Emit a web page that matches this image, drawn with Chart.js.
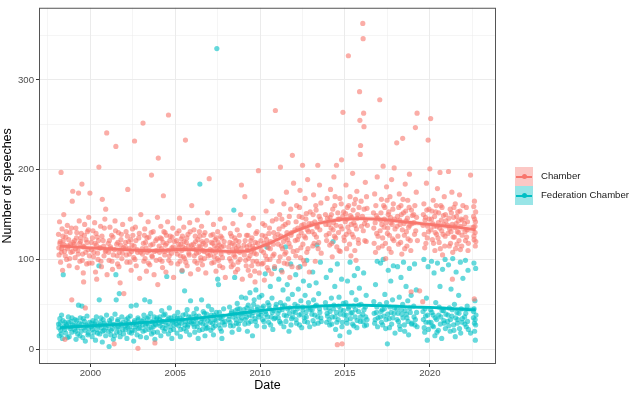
<!DOCTYPE html>
<html>
<head>
<meta charset="utf-8">
<script src="https://cdn.jsdelivr.net/npm/chart.js@4"></script>
<style>
  html, body { margin: 0; padding: 0; background: #fff; }
  #wrap { position: relative; width: 633px; height: 393px; }
  #legend { position: absolute; left: 515px; top: 167px; font-family: "Liberation Sans", Arial, sans-serif; font-size: 9.6px; color: #1a1a1a; }
  .item { position: relative; height: 19px; }
  .key { position: absolute; left: 0; top: 0; width: 18px; height: 19px; }
  .key i { position: absolute; left: 1px; right: 1px; top: 8.5px; height: 2px; }
  .key b { position: absolute; left: 6.5px; top: 7px; width: 5px; height: 5px; border-radius: 50%; }
  .item span { position: absolute; left: 26px; top: 3px; white-space: nowrap; }
</style>
</head>
<body>
<div id="wrap">
  <canvas id="chart" width="633" height="393"></canvas>
  <div id="legend"></div>
</div>
<script>
// Series names and colours (ggplot default hue)
const seriesNames = ['Chamber', 'Federation Chamber'];
const seriesColors = ['#F8766D', '#00BFC4'];

// Axis ticks
const yearTicks = [2000, 2005, 2010, 2015, 2020];
const yearMinor = [1997.5, 2002.5, 2007.5, 2012.5, 2017.5, 2022.5];
const countTicks = [0, 100, 200, 300];
const countMinor = [50, 150, 250, 350];

// Smoothed trend
const trendYears = [1998.2, 1999, 2000, 2001, 2002, 2003, 2004, 2005, 2006, 2007, 2008, 2009, 2010, 2011, 2012, 2013, 2014, 2015, 2016, 2017, 2018, 2019, 2020, 2021, 2022, 2022.7];
const chamberTrend = [115, 114, 113, 112, 111, 110, 110, 111, 111, 110, 109, 109, 114, 122, 131, 138, 142.5, 145, 145.5, 145, 143, 141, 139, 137, 135, 133];
const chamberSe = [5, 3, 2.5, 2.5, 2.5, 2.5, 2.5, 2.5, 2.5, 2.5, 2.5, 2.5, 2.5, 2.5, 2.5, 2.5, 2.5, 2.5, 2.5, 2.5, 2.5, 2.5, 2.5, 3, 3.5, 5];
const fedTrend = [24, 25, 26, 27, 28, 29.5, 31, 32.5, 34, 36, 38, 40.5, 43, 45, 46.5, 47.5, 48.5, 49, 49, 48.5, 48, 47, 46.5, 45.5, 44.5, 44];
const fedSe = [3.5, 2, 1.5, 1.5, 1.5, 1.5, 1.5, 1.5, 1.5, 1.5, 1.5, 1.5, 1.5, 1.5, 1.5, 1.5, 1.5, 1.5, 1.5, 1.5, 1.5, 1.5, 1.5, 2, 2.5, 3.5];

// Sitting days: [date as decimal year, number of speeches]
const chamberPoints = [
  [1998.12,128],[1998.15,105],[1998.18,142],[1998.2,118],[1998.24,97],[1998.27,197],[1998.3,112],[1998.33,134],[1998.36,88],[1998.4,121],[1998.43,150],[1998.47,109],[1998.5,11],[1998.55,125],[1998.6,100],[1998.64,138],[1998.7,115],[1998.75,93],[1998.8,130],[1998.85,108],[1998.9,55],[1998.93,165],[1998.96,176],[1998.98,119],
  [1999.05,117],[1999.1,102],[1999.14,135],[1999.18,124],[1999.22,91],[1999.26,110],[1999.3,174],[1999.34,143],[1999.38,98],[1999.42,120],[1999.46,129],[1999.5,184],[1999.54,106],[1999.58,85],[1999.6,75],[1999.62,114],[1999.66,139],[1999.7,46],[1999.74,122],[1999.78,95],[1999.82,131],[1999.86,111],[1999.9,147],[1999.94,104],[1999.97,174],
  [2000.05,119],[2000.1,96],[2000.15,132],[2000.2,108],[2000.25,141],[2000.3,86],[2000.35,116],[2000.37,78],[2000.4,125],[2000.45,100],[2000.5,203],[2000.55,113],[2000.6,137],[2000.65,92],[2000.7,167],[2000.75,121],[2000.8,104],[2000.85,145],[2000.9,156],[2000.93,110],[2000.96,241],[2000.98,83],
  [2001.05,118],[2001.1,99],[2001.15,136],[2001.2,112],[2001.25,127],[2001.3,89],[2001.35,105],[2001.4,6],[2001.45,143],[2001.5,226],[2001.55,117],[2001.6,95],[2001.65,130],[2001.7,108],[2001.75,74],[2001.8,122],[2001.85,101],[2001.9,139],[2001.95,113],[2001.97,62],
  [2002.05,114],[2002.1,131],[2002.15,97],[2002.2,178],[2002.25,120],[2002.3,106],[2002.35,145],[2002.4,88],[2002.45,116],[2002.5,127],[2002.55,102],[2002.6,232],[2002.65,136],[2002.7,93],[2002.75,111],[2002.8,1],[2002.85,124],[2002.9,79],[2002.95,108],[2002.97,150],
  [2003.05,112],[2003.1,252],[2003.15,98],[2003.2,134],[2003.25,119],[2003.3,87],[2003.35,108],[2003.4,142],[2003.45,125],[2003.5,94],[2003.55,116],[2003.6,194],[2003.65,103],[2003.7,131],[2003.75,83],[2003.8,7],[2003.85,121],[2003.9,110],[2003.95,147],[2003.97,72],
  [2004.0,213],[2004.05,115],[2004.1,100],[2004.15,137],[2004.2,123],[2004.25,91],[2004.3,171],[2004.35,109],[2004.4,130],[2004.45,86],[2004.5,118],[2004.55,142],[2004.6,261],[2004.65,104],[2004.7,126],[2004.75,96],[2004.8,113],[2004.85,135],[2004.9,80],[2004.95,120],
  [2005.05,110],[2005.1,129],[2005.15,95],[2005.2,117],[2005.25,146],[2005.3,104],[2005.35,123],[2005.4,88],[2005.45,114],[2005.5,136],[2005.55,101],[2005.6,233],[2005.65,119],[2005.7,93],[2005.75,128],[2005.8,107],[2005.85,141],[2005.9,84],[2005.95,116],[2005.97,160],
  [2006.05,112],[2006.1,133],[2006.15,98],[2006.2,120],[2006.25,107],[2006.3,144],[2006.35,89],[2006.4,115],[2006.45,126],[2006.5,102],[2006.55,137],[2006.6,94],[2006.65,118],[2006.7,109],[2006.75,130],[2006.8,85],[2006.85,121],[2006.9,152],[2006.95,104],
  [2007.0,190],[2007.05,111],[2007.1,127],[2007.15,96],[2007.2,118],[2007.25,139],[2007.3,103],[2007.35,122],[2007.4,87],[2007.45,113],[2007.5,131],[2007.55,99],[2007.6,116],[2007.65,145],[2007.7,106],[2007.75,124],[2007.8,91],[2007.85,115],[2007.9,135],[2007.95,80],
  [2008.15,114],[2008.2,101],[2008.25,129],[2008.3,92],[2008.35,118],[2008.4,140],[2008.45,105],[2008.5,124],[2008.55,86],[2008.6,112],[2008.65,133],[2008.7,97],[2008.75,120],[2008.8,108],[2008.85,150],[2008.9,183],[2008.95,78],
  [2009.05,116],[2009.1,170],[2009.15,99],[2009.2,127],[2009.25,110],[2009.3,88],[2009.35,138],[2009.4,104],[2009.45,121],[2009.5,93],[2009.55,115],[2009.6,146],[2009.65,107],[2009.7,75],[2009.75,129],[2009.8,98],[2009.85,118],[2009.9,199],[2009.95,85],
  [2010.05,121],[2010.1,95],[2010.15,140],[2010.2,108],[2010.25,77],[2010.3,126],[2010.35,154],[2010.4,100],[2010.45,117],[2010.5,88],[2010.55,135],[2010.6,112],[2010.7,165],[2010.75,104],[2010.8,130],[2010.85,92],[2010.9,266],[2010.95,145],
  [2011.05,128],[2011.1,98],[2011.15,150],[2011.2,203],[2011.25,115],[2011.3,86],[2011.35,137],[2011.4,162],[2011.45,106],[2011.5,124],[2011.55,175],[2011.6,95],[2011.65,141],[2011.7,118],[2011.75,80],[2011.8,156],[2011.85,130],[2011.9,216],[2011.95,109],[2011.97,185],
  [2012.05,133],[2012.1,104],[2012.15,160],[2012.2,122],[2012.25,91],[2012.3,148],[2012.35,177],[2012.4,113],[2012.45,138],[2012.5,205],[2012.55,99],[2012.6,126],[2012.65,168],[2012.7,145],[2012.75,108],[2012.8,189],[2012.85,131],[2012.9,86],[2012.95,153],
  [2013.05,140],[2013.1,115],[2013.15,172],[2013.2,128],[2013.25,98],[2013.3,155],[2013.35,136],[2013.4,205],[2013.45,119],[2013.5,183],[2013.55,145],[2013.6,107],[2013.85,150],[2013.9,127],[2013.95,168],
  [2014.05,139],[2014.1,116],[2014.15,178],[2014.2,150],[2014.25,103],[2014.3,133],[2014.35,192],[2014.4,160],[2014.45,124],[2014.5,205],[2014.55,5],[2014.6,145],[2014.65,110],[2014.7,168],[2014.75,137],[2014.8,211],[2014.83,6],[2014.88,264],[2014.92,153],[2014.96,121],
  [2015.02,142],[2015.06,183],[2015.1,112],[2015.14,158],[2015.2,327],[2015.24,131],[2015.3,170],[2015.35,104],[2015.4,147],[2015.45,196],[2015.5,125],[2015.55,162],[2015.6,138],[2015.65,99],[2015.7,176],[2015.75,150],[2015.8,118],[2015.86,287],[2015.88,255],[2015.9,217],[2015.92,227],[2015.95,165],
  [2016.05,363],[2016.07,346],[2016.1,263],[2016.12,248],[2016.15,140],[2016.2,186],[2016.25,120],[2016.3,157],[2016.7,135],[2016.75,173],[2016.8,108],[2016.85,149],[2016.9,192],[2016.95,126],
  [2017.05,278],[2017.1,144],[2017.15,167],[2017.2,115],[2017.25,204],[2017.3,136],[2017.35,158],[2017.4,101],[2017.45,181],[2017.5,129],[2017.55,150],[2017.6,112],[2017.65,170],[2017.7,141],[2017.75,189],[2017.8,123],[2017.85,162],[2017.9,202],[2017.95,134],
  [2018.05,230],[2018.1,148],[2018.15,117],[2018.2,173],[2018.25,139],[2018.3,160],[2018.35,106],[2018.4,235],[2018.45,152],[2018.5,127],[2018.55,184],[2018.6,143],[2018.65,115],[2018.7,166],[2018.75,136],[2018.8,195],[2018.85,121],[2018.9,64],[2018.92,155],[2018.95,140],
  [2019.05,150],[2019.1,128],[2019.15,247],[2019.2,175],[2019.25,263],[2019.4,65],[2019.58,53],[2019.6,138],[2019.65,162],[2019.7,113],[2019.75,147],[2019.8,185],[2019.85,124],[2019.9,233],[2019.95,156],
  [2020.0,201],[2020.05,257],[2020.1,145],[2020.15,122],[2020.2,166],[2020.25,137],[2020.3,110],[2020.35,153],[2020.4,128],[2020.45,179],[2020.5,141],[2020.55,119],[2020.6,197],[2020.65,160],[2020.7,132],[2020.75,105],[2020.8,149],[2020.85,170],[2020.9,126],[2020.95,143],
  [2021.05,138],[2021.1,198],[2021.15,115],[2021.2,156],[2021.25,131],[2021.3,175],[2021.33,78],[2021.35,108],[2021.4,147],[2021.45,125],[2021.5,162],[2021.55,140],[2021.6,117],[2021.65,153],[2021.7,130],[2021.75,172],[2021.8,111],[2021.85,145],[2021.9,127],[2021.95,160],
  [2022.05,140],[2022.1,121],[2022.15,158],[2022.2,133],[2022.25,110],[2022.4,194],[2022.58,148],[2022.6,126],[2022.62,56],[2022.63,165],[2022.66,137],[2022.68,115],[2022.7,153]
];

// The dense middle of the Chamber cloud
const chamberCorePoints = [
  [1998.14,113],[1998.22,120],[1998.29,108],[1998.38,126],[1998.45,116],[1998.52,104],[1998.58,131],[1998.66,112],[1998.72,122],[1998.78,101],[1998.83,117],[1998.88,135],[1998.95,109],
  [1999.07,121],[1999.12,112],[1999.2,130],[1999.28,106],[1999.36,118],[1999.44,124],[1999.52,99],[1999.56,115],[1999.64,127],[1999.72,108],[1999.8,119],[1999.88,133],[1999.92,96],
  [2000.07,111],[2000.12,124],[2000.18,103],[2000.27,118],[2000.33,129],[2000.42,107],[2000.48,121],[2000.58,113],[2000.62,98],[2000.68,126],[2000.78,115],[2000.82,135],[2000.88,109],
  [2001.07,108],[2001.12,121],[2001.18,114],[2001.27,98],[2001.33,125],[2001.42,111],[2001.48,132],[2001.58,104],[2001.62,119],[2001.68,92],[2001.78,116],[2001.82,128],[2001.88,107],
  [2002.07,119],[2002.12,105],[2002.18,126],[2002.27,112],[2002.33,97],[2002.38,122],[2002.42,109],[2002.48,134],[2002.58,115],[2002.62,100],[2002.68,121],[2002.78,108],[2002.88,129],
  [2003.07,106],[2003.12,118],[2003.18,127],[2003.22,101],[2003.28,113],[2003.33,124],[2003.42,96],[2003.48,110],[2003.58,130],[2003.62,104],[2003.68,117],[2003.78,109],[2003.88,99],[2003.92,123],
  [2004.07,108],[2004.12,124],[2004.18,112],[2004.22,98],[2004.28,119],[2004.33,131],[2004.38,105],[2004.42,116],[2004.48,127],[2004.58,110],[2004.62,99],[2004.68,121],[2004.78,107],[2004.82,125],[2004.88,114],
  [2005.07,121],[2005.12,106],[2005.18,113],[2005.22,132],[2005.28,98],[2005.33,117],[2005.38,110],[2005.42,126],[2005.48,103],[2005.52,120],[2005.58,112],[2005.62,97],[2005.68,124],[2005.78,115],[2005.82,105],[2005.88,131],
  [2006.07,117],[2006.12,104],[2006.18,126],[2006.22,111],[2006.28,96],[2006.33,122],[2006.38,108],[2006.42,131],[2006.48,114],[2006.52,99],[2006.58,120],[2006.62,110],[2006.68,127],[2006.72,101],[2006.78,116],[2006.88,107],
  [2007.07,105],[2007.12,119],[2007.18,110],[2007.22,128],[2007.28,97],[2007.32,115],[2007.38,108],[2007.42,124],[2007.48,101],[2007.52,119],[2007.58,111],[2007.62,93],[2007.68,126],[2007.72,114],[2007.78,102],[2007.88,120],
  [2008.17,108],[2008.22,119],[2008.28,98],[2008.32,126],[2008.38,111],[2008.42,94],[2008.48,116],[2008.52,103],[2008.58,121],[2008.62,110],[2008.68,89],[2008.72,115],[2008.78,127],[2008.82,100],[2008.88,112],
  [2009.07,105],[2009.12,121],[2009.18,93],[2009.22,114],[2009.28,127],[2009.32,101],[2009.38,116],[2009.42,82],[2009.48,109],[2009.52,124],[2009.58,98],[2009.62,112],[2009.68,87],[2009.72,119],[2009.78,106],[2009.82,131],[2009.88,95],
  [2010.07,110],[2010.12,127],[2010.18,96],[2010.22,118],[2010.28,138],[2010.32,104],[2010.38,122],[2010.42,91],[2010.48,113],[2010.52,129],[2010.58,100],[2010.62,120],[2010.68,84],[2010.72,143],[2010.78,117],[2010.82,106],[2010.88,125],
  [2011.07,117],[2011.12,134],[2011.18,103],[2011.22,126],[2011.28,145],[2011.32,112],[2011.38,120],[2011.42,96],[2011.48,139],[2011.52,108],[2011.58,130],[2011.62,122],[2011.68,101],[2011.72,148],[2011.78,114],[2011.82,127],[2011.88,92],
  [2012.07,121],[2012.12,142],[2012.18,110],[2012.22,135],[2012.28,126],[2012.32,158],[2012.38,102],[2012.42,130],[2012.48,147],[2012.52,117],[2012.58,139],[2012.62,95],[2012.68,124],[2012.72,151],[2012.78,133],[2012.82,112],[2012.88,140],
  [2013.07,131],[2013.12,150],[2013.18,118],[2013.22,142],[2013.28,160],[2013.32,125],[2013.38,137],[2013.42,112],[2013.48,148],[2013.52,133],[2013.58,163],[2013.87,139],[2013.92,121],[2013.97,146],
  [2014.07,129],[2014.12,147],[2014.18,135],[2014.22,118],[2014.28,156],[2014.32,141],[2014.38,126],[2014.42,170],[2014.48,138],[2014.52,114],[2014.58,152],[2014.62,130],[2014.68,145],[2014.72,109],[2014.78,162],[2014.82,134],[2014.87,148],[2014.94,125],
  [2015.04,151],[2015.08,128],[2015.12,145],[2015.17,136],[2015.22,160],[2015.27,117],[2015.32,149],[2015.37,139],[2015.42,128],[2015.48,155],[2015.52,141],[2015.58,110],[2015.62,167],[2015.68,134],[2015.72,146],[2015.78,122],[2015.83,158],[2015.97,137],
  [2016.03,148],[2016.08,132],[2016.13,156],[2016.17,121],[2016.22,144],[2016.27,170],[2016.32,138],[2016.68,152],[2016.72,118],[2016.78,141],[2016.82,160],[2016.87,129],[2016.92,146],[2016.97,113],
  [2017.07,132],[2017.12,152],[2017.17,139],[2017.22,124],[2017.28,160],[2017.32,145],[2017.38,118],[2017.42,141],[2017.48,166],[2017.52,135],[2017.58,153],[2017.62,127],[2017.68,147],[2017.72,108],[2017.78,139],[2017.82,156],[2017.88,121],[2017.92,145],
  [2018.07,137],[2018.12,126],[2018.17,158],[2018.22,144],[2018.28,119],[2018.32,150],[2018.38,133],[2018.42,167],[2018.48,140],[2018.52,112],[2018.58,154],[2018.62,131],[2018.68,146],[2018.72,123],[2018.78,158],[2018.82,138],[2018.88,110],[2018.97,149],
  [2019.07,141],[2019.12,160],[2019.17,132],[2019.22,147],[2019.27,121],[2019.62,150],[2019.67,128],[2019.72,144],[2019.77,118],[2019.82,155],[2019.87,137],[2019.92,131],[2019.97,145],
  [2020.07,133],[2020.12,154],[2020.17,140],[2020.22,118],[2020.28,148],[2020.32,130],[2020.38,160],[2020.42,137],[2020.48,124],[2020.52,152],[2020.58,135],[2020.62,112],[2020.68,144],[2020.72,158],[2020.78,128],[2020.82,139],[2020.88,115],[2020.92,150],
  [2021.07,129],[2021.12,146],[2021.17,134],[2021.22,118],[2021.27,152],[2021.32,139],[2021.38,125],[2021.42,158],[2021.48,136],[2021.52,112],[2021.58,148],[2021.62,131],[2021.68,143],[2021.72,121],[2021.78,154],[2021.82,137],[2021.88,115],[2021.92,144],
  [2022.07,131],[2022.12,147],[2022.17,125],[2022.22,142],[2022.27,118],[2022.57,136],[2022.59,159],[2022.61,122],[2022.64,145],[2022.67,130],[2022.69,142],[2022.71,120]
];

const fedPoints = [
  [1998.12,28],[1998.16,15],[1998.2,34],[1998.25,21],[1998.3,38],[1998.35,12],[1998.4,83],[1998.45,25],[1998.5,30],[1998.55,18],[1998.6,26],[1998.7,36],[1998.75,14],[1998.8,23],[1998.85,31],[1998.9,19],[1998.95,27],
  [1999.05,22],[1999.1,33],[1999.15,11],[1999.2,26],[1999.25,17],[1999.3,49],[1999.35,29],[1999.4,35],[1999.45,20],[1999.5,48],[1999.55,13],[1999.6,24],[1999.65,31],[1999.7,9],[1999.75,27],[1999.8,37],[1999.85,16],[1999.9,23],[1999.95,30],
  [2000.05,25],[2000.1,14],[2000.15,32],[2000.2,19],[2000.25,28],[2000.3,10],[2000.35,36],[2000.4,22],[2000.45,26],[2000.5,93],[2000.52,55],[2000.55,17],[2000.6,30],[2000.65,24],[2000.7,8],[2000.75,33],[2000.8,21],[2000.85,27],[2000.9,15],[2000.95,38],
  [2001.05,20],[2001.1,3],[2001.15,29],[2001.2,16],[2001.25,34],[2001.3,23],[2001.35,11],[2001.4,27],[2001.45,39],[2001.5,83],[2001.52,55],[2001.55,19],[2001.6,31],[2001.65,25],[2001.7,62],[2001.75,14],[2001.8,28],[2001.85,36],[2001.9,22],[2001.95,17],
  [2002.05,26],[2002.1,33],[2002.15,12],[2002.2,24],[2002.25,30],[2002.3,19],[2002.35,37],[2002.4,48],[2002.45,21],[2002.5,28],[2002.55,9],[2002.6,32],[2002.65,25],[2002.7,49],[2002.75,16],[2002.8,35],[2002.85,23],[2002.9,29],[2002.95,14],
  [2003.05,31],[2003.1,20],[2003.15,38],[2003.2,55],[2003.25,26],[2003.3,13],[2003.35,34],[2003.4,28],[2003.45,22],[2003.5,53],[2003.55,40],[2003.6,17],[2003.65,30],[2003.7,25],[2003.75,36],[2003.8,11],[2003.85,27],[2003.9,33],[2003.95,19],
  [2004.05,29],[2004.1,36],[2004.15,15],[2004.2,43],[2004.25,24],[2004.3,31],[2004.35,20],[2004.4,39],[2004.45,27],[2004.5,81],[2004.55,33],[2004.6,17],[2004.65,46],[2004.7,25],[2004.75,35],[2004.8,12],[2004.85,30],[2004.9,22],[2004.95,37],
  [2005.05,32],[2005.1,18],[2005.15,41],[2005.2,26],[2005.25,35],[2005.3,14],[2005.35,29],[2005.4,87],[2005.45,38],[2005.5,23],[2005.55,65],[2005.6,31],[2005.65,20],[2005.7,44],[2005.75,27],[2005.8,36],[2005.85,16],[2005.9,54],[2005.95,30],
  [2006.05,28],[2006.1,40],[2006.15,19],[2006.2,34],[2006.25,45],[2006.3,25],[2006.35,12],[2006.4,37],[2006.45,184],[2006.5,30],[2006.55,55],[2006.6,22],[2006.65,42],[2006.7,33],[2006.75,15],[2006.8,27],[2006.85,39],[2006.9,24],[2006.95,48],
  [2007.05,35],[2007.1,21],[2007.15,44],[2007.2,29],[2007.25,16],[2007.3,38],[2007.35,26],[2007.4,32],[2007.45,335],[2007.5,78],[2007.55,72],[2007.6,41],[2007.65,23],[2007.7,34],[2007.75,12],[2007.8,30],[2007.85,45],[2007.9,27],
  [2008.15,33],[2008.2,47],[2008.25,26],[2008.3,40],[2008.35,19],[2008.4,36],[2008.45,155],[2008.5,80],[2008.55,43],[2008.6,29],[2008.65,51],[2008.7,37],[2008.75,22],[2008.8,45],[2008.85,32],[2008.9,58],[2008.95,40],
  [2009.05,44],[2009.1,28],[2009.15,57],[2009.2,36],[2009.25,20],[2009.3,49],[2009.35,38],[2009.4,63],[2009.45,31],[2009.5,45],[2009.55,15],[2009.6,41],[2009.65,55],[2009.7,34],[2009.75,66],[2009.8,26],[2009.85,47],[2009.9,39],[2009.95,58],
  [2010.05,42],[2010.1,60],[2010.15,33],[2010.2,48],[2010.25,25],[2010.3,84],[2010.35,39],[2010.4,114],[2010.45,52],[2010.5,30],[2010.55,45],[2010.6,70],[2010.65,36],[2010.7,57],[2010.75,22],[2010.8,43],[2010.85,90],[2010.9,35],[2010.95,50],
  [2011.05,40],[2011.1,78],[2011.15,31],[2011.2,52],[2011.25,88],[2011.3,44],[2011.35,66],[2011.4,25],[2011.45,49],[2011.5,114],[2011.55,37],[2011.6,72],[2011.65,56],[2011.7,20],[2011.75,46],[2011.8,95],[2011.85,34],[2011.9,61],[2011.95,42],
  [2012.05,50],[2012.1,83],[2012.15,29],[2012.2,45],[2012.25,67],[2012.3,38],[2012.35,92],[2012.4,54],[2012.45,24],[2012.5,47],[2012.55,76],[2012.6,35],[2012.65,60],[2012.7,41],[2012.75,99],[2012.8,30],[2012.85,52],[2012.9,71],[2012.95,44],
  [2013.05,39],[2013.1,86],[2013.15,55],[2013.2,28],[2013.25,48],[2013.3,74],[2013.35,116],[2013.4,36],[2013.45,62],[2013.5,45],[2013.55,97],[2013.6,31],[2013.85,52],[2013.9,80],[2013.95,40],
  [2014.05,46],[2014.1,27],[2014.15,88],[2014.2,57],[2014.25,36],[2014.3,120],[2014.35,49],[2014.4,70],[2014.45,22],[2014.5,41],[2014.55,95],[2014.6,33],[2014.65,58],[2014.7,15],[2014.75,44],[2014.8,78],[2014.85,30],[2014.9,51],[2014.95,38],
  [2015.05,52],[2015.1,33],[2015.15,76],[2015.2,45],[2015.25,19],[2015.3,97],[2015.35,40],[2015.4,63],[2015.45,28],[2015.5,48],[2015.55,82],[2015.6,36],[2015.65,55],[2015.7,24],[2015.75,90],[2015.8,42],[2015.85,68],[2015.9,31],[2015.95,50],
  [2016.05,39],[2016.1,85],[2016.15,26],[2016.2,47],[2016.25,60],[2016.3,33],[2016.7,53],[2016.75,29],[2016.8,72],[2016.85,41],[2016.9,98],[2016.95,35],
  [2017.05,50],[2017.1,96],[2017.15,30],[2017.2,44],[2017.25,100],[2017.3,37],[2017.35,61],[2017.4,23],[2017.45,52],[2017.5,6],[2017.55,88],[2017.6,34],[2017.65,47],[2017.7,76],[2017.75,28],[2017.8,55],[2017.85,93],[2017.9,40],[2017.95,18],
  [2018.05,45],[2018.1,92],[2018.15,31],[2018.2,58],[2018.25,22],[2018.3,80],[2018.35,39],[2018.4,50],[2018.45,97],[2018.5,27],[2018.55,43],[2018.6,70],[2018.65,35],[2018.7,54],[2018.75,16],[2018.8,90],[2018.85,41],[2018.9,60],[2018.95,29],
  [2019.05,48],[2019.1,95],[2019.15,33],[2019.2,66],[2019.25,25],[2019.6,42],[2019.65,100],[2019.7,19],[2019.75,37],[2019.8,57],[2019.85,10],[2019.9,92],[2019.95,30],
  [2020.05,44],[2020.1,98],[2020.15,26],[2020.2,38],[2020.25,85],[2020.3,15],[2020.35,52],[2020.4,33],[2020.45,96],[2020.5,21],[2020.55,47],[2020.6,70],[2020.65,36],[2020.7,12],[2020.75,89],[2020.8,43],[2020.85,29],[2020.9,100],[2020.95,39],
  [2021.05,31],[2021.1,94],[2021.15,46],[2021.2,20],[2021.25,67],[2021.3,37],[2021.35,101],[2021.4,27],[2021.45,50],[2021.5,14],[2021.55,86],[2021.6,41],[2021.65,33],[2021.7,60],[2021.75,23],[2021.8,97],[2021.85,45],[2021.9,30],[2021.95,79],
  [2022.05,36],[2022.1,99],[2022.15,25],[2022.2,48],[2022.25,88],[2022.4,18],[2022.58,42],[2022.6,96],[2022.63,29],[2022.66,54],[2022.68,10],[2022.7,90],[2022.72,38]
];

// The dense lower band of the Federation Chamber cloud
const fedCorePoints = [
  [1998.14,24],[1998.22,29],[1998.28,17],[1998.38,32],[1998.48,22],[1998.58,28],[1998.65,13],[1998.72,30],[1998.82,25],[1998.92,35],
  [1999.07,27],[1999.12,20],[1999.18,32],[1999.28,24],[1999.38,15],[1999.48,28],[1999.58,34],[1999.68,21],[1999.78,26],[1999.88,18],
  [2000.07,29],[2000.12,22],[2000.22,26],[2000.32,31],[2000.42,18],[2000.58,27],[2000.62,35],[2000.72,20],[2000.82,29],[2000.92,24],
  [2001.07,26],[2001.12,32],[2001.22,21],[2001.32,28],[2001.42,15],[2001.58,24],[2001.62,33],[2001.72,19],[2001.82,27],[2001.92,30],
  [2002.07,22],[2002.12,28],[2002.22,35],[2002.32,25],[2002.42,18],[2002.58,30],[2002.62,21],[2002.72,27],[2002.82,33],[2002.92,24],
  [2003.07,27],[2003.12,33],[2003.22,21],[2003.32,29],[2003.42,36],[2003.58,24],[2003.62,31],[2003.72,19],[2003.82,28],[2003.92,35],
  [2004.07,33],[2004.12,26],[2004.22,31],[2004.32,38],[2004.42,23],[2004.58,29],[2004.62,35],[2004.72,21],[2004.82,32],[2004.92,27],
  [2005.07,28],[2005.12,35],[2005.22,30],[2005.32,22],[2005.42,33],[2005.58,27],[2005.62,39],[2005.72,25],[2005.82,31],[2005.92,36],
  [2006.07,31],[2006.12,25],[2006.22,37],[2006.32,29],[2006.42,21],[2006.58,34],[2006.62,28],[2006.72,40],[2006.82,23],[2006.92,32],
  [2007.07,30],[2007.12,38],[2007.22,24],[2007.32,33],[2007.42,41],[2007.58,27],[2007.62,35],[2007.72,20],[2007.82,37],[2007.92,31],
  [2008.17,37],[2008.22,30],[2008.32,42],[2008.42,26],[2008.52,39],[2008.58,33],[2008.68,45],[2008.72,28],[2008.82,40],[2008.92,35],
  [2009.07,40],[2009.12,33],[2009.22,46],[2009.32,29],[2009.42,42],[2009.52,37],[2009.62,50],[2009.72,31],[2009.82,44],[2009.92,36],
  [2010.07,38],[2010.12,46],[2010.22,31],[2010.32,42],[2010.42,36],[2010.52,49],[2010.62,27],[2010.72,41],[2010.82,34],[2010.92,47],
  [2011.07,35],[2011.12,43],[2011.22,29],[2011.32,48],[2011.42,38],[2011.52,31],[2011.62,45],[2011.72,40],[2011.82,27],[2011.92,36],
  [2012.07,41],[2012.12,33],[2012.22,48],[2012.32,27],[2012.42,39],[2012.52,44],[2012.62,31],[2012.72,36],[2012.82,46],[2012.92,25],
  [2013.07,44],[2013.12,32],[2013.22,38],[2013.32,49],[2013.42,29],[2013.52,41],[2013.58,35],[2013.87,46],[2013.92,30],[2013.97,37],
  [2014.07,33],[2014.12,42],[2014.22,28],[2014.32,45],[2014.42,36],[2014.52,30],[2014.62,48],[2014.72,39],[2014.82,25],[2014.92,43],
  [2015.07,38],[2015.12,29],[2015.22,47],[2015.32,34],[2015.42,41],[2015.52,26],[2015.62,44],[2015.72,32],[2015.82,49],[2015.92,36],
  [2016.07,31],[2016.12,44],[2016.22,36],[2016.27,27],[2016.72,40],[2016.78,33],[2016.88,47],[2016.92,25],
  [2017.07,36],[2017.12,42],[2017.22,27],[2017.32,45],[2017.42,33],[2017.52,39],[2017.62,24],[2017.72,41],[2017.82,35],[2017.92,46],
  [2018.07,33],[2018.12,40],[2018.22,26],[2018.32,44],[2018.42,35],[2018.52,20],[2018.62,39],[2018.72,31],[2018.82,46],[2018.92,28],
  [2019.07,36],[2019.12,27],[2019.22,41],[2019.62,33],[2019.67,24],[2019.72,45],[2019.77,30],[2019.87,38],[2019.92,22],
  [2020.07,30],[2020.12,41],[2020.22,25],[2020.32,35],[2020.42,19],[2020.52,38],[2020.62,28],[2020.72,43],[2020.82,32],[2020.92,23],
  [2021.07,38],[2021.12,26],[2021.22,33],[2021.32,44],[2021.42,21],[2021.52,35],[2021.62,29],[2021.72,40],[2021.82,18],[2021.92,34],
  [2022.07,28],[2022.12,40],[2022.22,31],[2022.27,22],[2022.57,35],[2022.61,45],[2022.64,20],[2022.67,33],[2022.7,27]
];

function alpha(hex, a) {
  const n = parseInt(hex.slice(1), 16);
  return `rgba(${n >> 16}, ${(n >> 8) & 255}, ${n & 255}, ${a})`;
}

const toXY = arr => arr.map(p => ({ x: p[0], y: p[1] }));
const curve = (vals, se, sign) => trendYears.map((x, i) => ({ x: x, y: vals[i] + sign * (se ? se[i] : 0) }));

function trendSets(vals, se, color) {
  return [
    { data: curve(vals, null, 0), showLine: true, borderColor: color, borderWidth: 2.8, pointRadius: 0, tension: 0.4, fill: false, order: 0 },
    { data: curve(vals, se, 1), showLine: true, borderWidth: 0, pointRadius: 0, tension: 0.4, fill: false, order: 1 },
    { data: curve(vals, se, -1), showLine: true, borderWidth: 0, pointRadius: 0, tension: 0.4, fill: '-1', backgroundColor: alpha(color, 0.3), order: 1 }
  ];
}

// ggplot-ish panel border
const panelBorder = {
  id: 'panelBorder',
  afterDraw(chart) {
    const { ctx, chartArea: a } = chart;
    ctx.save();
    ctx.strokeStyle = '#555555';
    ctx.lineWidth = 1;
    ctx.strokeRect(a.left + 0.5, a.top + 0.5, a.right - a.left - 1, a.bottom - a.top - 1);
    ctx.restore();
  }
};

const tickFont = { family: 'Liberation Sans, Arial, sans-serif', size: 9.6 };
const titleFont = { family: 'Liberation Sans, Arial, sans-serif', size: 12.5 };

const datasets = [
  ...trendSets(chamberTrend, chamberSe, seriesColors[0]),
  ...trendSets(fedTrend, fedSe, seriesColors[1]),
  { data: toXY(chamberPoints.concat(chamberCorePoints)), backgroundColor: alpha(seriesColors[0], 0.6), borderWidth: 0, pointRadius: 2.6, order: 3 },
  { data: toXY(fedPoints.concat(fedCorePoints)), backgroundColor: alpha(seriesColors[1], 0.6), borderWidth: 0, pointRadius: 2.6, order: 4 }
];

new Chart(document.getElementById('chart'), {
  type: 'scatter',
  data: { datasets: datasets },
  options: {
    responsive: false,
    animation: false,
    events: [],
    layout: { padding: { top: 2, right: 137, left: 0, bottom: 0 } },
    plugins: { legend: { display: false }, tooltip: { enabled: false } },
    scales: {
      x: {
        type: 'linear',
        min: 1996.97,
        max: 2023.9,
        afterBuildTicks: s => { s.ticks = [...yearMinor, ...yearTicks].sort((a, b) => a - b).map(v => ({ value: v })); },
        afterFit: s => { s.height = 29; },
        ticks: {
          font: tickFont, color: '#4D4D4D', padding: 1, maxRotation: 0, autoSkip: false,
          callback: v => yearTicks.includes(v) ? String(v) : ''
        },
        grid: {
          color: '#EBEBEB',
          lineWidth: c => yearTicks.includes(c.tick.value) ? 1 : 0.5,
          tickLength: 3,
          tickColor: c => yearTicks.includes(c.tick.value) ? '#333333' : 'rgba(0,0,0,0)'
        },
        border: { display: false },
        title: { display: true, text: 'Date', font: titleFont, color: '#000', padding: { top: 0, bottom: 0 } }
      },
      y: {
        type: 'linear',
        min: -16.5,
        max: 380.5,
        afterBuildTicks: s => { s.ticks = [...countTicks, ...countMinor].sort((a, b) => a - b).map(v => ({ value: v })); },
        afterFit: s => { s.width = 39; },
        ticks: {
          font: tickFont, color: '#4D4D4D', padding: 2, autoSkip: false,
          callback: v => countTicks.includes(v) ? String(v) : ''
        },
        grid: {
          color: '#EBEBEB',
          lineWidth: c => countTicks.includes(c.tick.value) ? 1 : 0.5,
          tickLength: 3,
          tickColor: c => countTicks.includes(c.tick.value) ? '#333333' : 'rgba(0,0,0,0)'
        },
        border: { display: false },
        title: { display: true, text: 'Number of speeches', font: titleFont, color: '#000', padding: { top: 0, bottom: 2 } }
      }
    }
  },
  plugins: [panelBorder]
});

// Legend built from the series arrays
const legend = document.getElementById('legend');
seriesNames.forEach((name, i) => {
  const c = seriesColors[i];
  legend.insertAdjacentHTML('beforeend',
    `<div class="item"><div class="key" style="background:${alpha(c, 0.4)}"><i style="background:${c}"></i><b style="background:${c}"></b></div><span>${name}</span></div>`);
});
</script>
</body>
</html>
